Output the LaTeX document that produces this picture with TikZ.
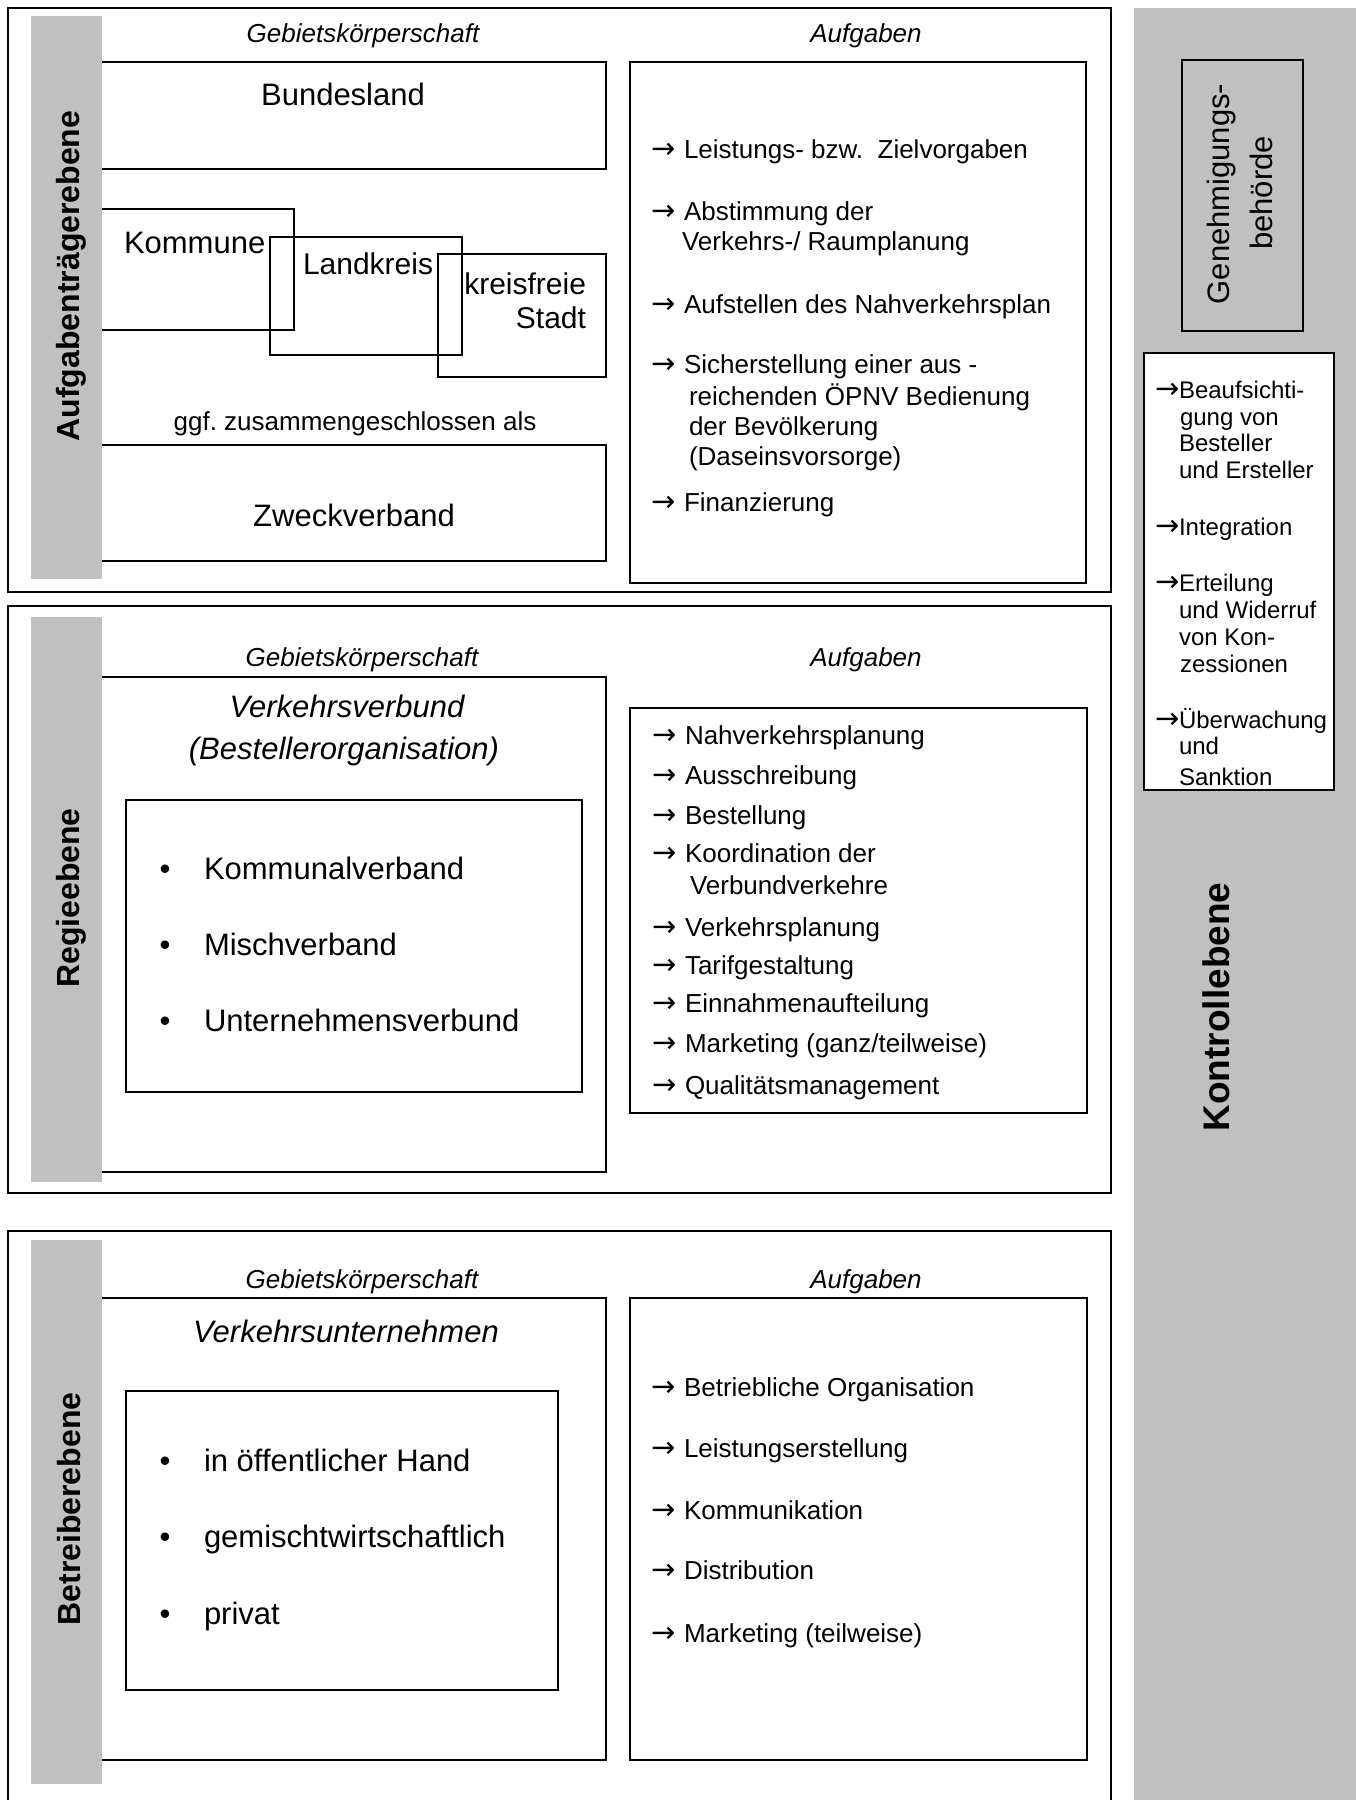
\documentclass[tikz,border=0pt]{standalone}
\usepackage{fontspec}
\setmainfont{Liberation Sans}
\newfontfamily\arrfont{DejaVu Sans}
\definecolor{barg}{RGB}{192,192,192}
\newcommand\myarr[1][33pt]{\makebox[#1][l]{\arrfont\fontsize{29}{32}\selectfont →}}
\frenchspacing
\begin{document}
\begin{tikzpicture}[x=1pt,y=-1pt,
  ln/.style={line width=1.6pt},
  t/.style={inner sep=0pt, outer sep=0pt},
  s24/.style={t,font=\fontsize{24}{29}\selectfont,yshift=-8.6pt},
  s26/.style={t,font=\fontsize{26}{31}\selectfont,yshift=-9.4pt},
  s30/.style={t,font=\fontsize{30}{36}\selectfont,yshift=-10.8pt},
  s31/.style={t,font=\fontsize{31}{37}\selectfont,yshift=-11.2pt},
  i26/.style={t,font=\fontsize{26}{31}\selectfont\itshape,yshift=-9.4pt},
  i31/.style={t,font=\fontsize{31}{37}\selectfont\itshape,yshift=-11.2pt},
  lab/.style={t,rotate=90,anchor=base,font=\fontsize{32}{38}\selectfont\bfseries},
  rot/.style={t,rotate=90,anchor=base,font=\fontsize{31}{37}\selectfont},
]
\useasboundingbox (0,0) rectangle (1356,1800);
\fill[white] (0,0) rectangle (1356,1800);

% ---------- right column: Kontrollebene ----------
\fill[barg] (1134,8) rectangle (1356,1800);
\draw[ln,fill=barg] (1182,60) rectangle (1303,331);
\draw[ln,fill=white] (1144,353) rectangle (1334,790);
\node[rot] (gen1) at (1229,194) {Genehmigungs-};
\node[rot] (gen2) at (1272,193) {behörde};
\node[t,rotate=90,anchor=base,font=\fontsize{37}{44}\selectfont\bfseries] (kontr) at (1229,1007) {Kontrollebene};
\node[s24,anchor=base west] (k1) at (1155,390) {\myarr[24pt]Beaufsichti-};
\node[s24,anchor=base west] (k2) at (1180,417) {gung von};
\node[s24,anchor=base west] (k3) at (1179,443) {Besteller};
\node[s24,anchor=base west] (k4) at (1179,470) {und Ersteller};
\node[s24,anchor=base west] (k5) at (1155,527) {\myarr[24pt]Integration};
\node[s24,anchor=base west] (k6) at (1155,583) {\myarr[24pt]Erteilung};
\node[s24,anchor=base west] (k7) at (1179,610) {und Widerruf};
\node[s24,anchor=base west] (k8) at (1179,637) {von Kon-};
\node[s24,anchor=base west] (k9) at (1180,664) {zessionen};
\node[s24,anchor=base west] (k10) at (1155,720) {\myarr[24pt]Überwachung};
\node[s24,anchor=base west] (k11) at (1179,746) {und};
\node[s24,anchor=base west] (k12) at (1179,777) {Sanktion};

% ---------- panel 1: Aufgabentraegerebene ----------
\draw[ln] (8,8) rectangle (1111,592);
\draw[ln] (98,62) rectangle (606,169);
\draw[ln] (98,209) rectangle (294,330);
\draw[ln] (270,237) rectangle (462,355);
\draw[ln] (438,254) rectangle (606,377);
\draw[ln] (98,445) rectangle (606,561);
\draw[ln] (630,62) rectangle (1086,583);
\fill[barg] (31,16) rectangle (102,579);
\node[lab] (lab1) at (79,276) {Aufgabenträgerebene};
\node[i26,anchor=base] (g1) at (363,33) {Gebietskörperschaft};
\node[i26,anchor=base] (a1) at (866,33) {Aufgaben};
\node[s31,anchor=base] (bl) at (343,94) {Bundesland};
\node[s31,anchor=base west] (ko) at (124,242) {Kommune};
\node[s30,anchor=base west] (lk) at (303,264) {Landkreis};
\node[s30,anchor=base east] (kf1) at (586,284) {kreisfreie};
\node[s30,anchor=base east] (kf2) at (586,318) {Stadt};
\node[s26,anchor=base] (ggf) at (355,421) {ggf. zusammengeschlossen als};
\node[s31,anchor=base] (zv) at (354,515) {Zweckverband};
\node[s26,anchor=base west] (p1a) at (651,149) {\myarr Leistungs- bzw.\ \ Zielvorgaben};
\node[s26,anchor=base west] (p1b) at (651,211) {\myarr Abstimmung der};
\node[s26,anchor=base west] (p1c) at (682,241) {Verkehrs-/ Raumplanung};
\node[s26,anchor=base west] (p1d) at (651,304) {\myarr Aufstellen des Nahverkehrsplan};
\node[s26,anchor=base west] (p1e) at (651,364) {\myarr Sicherstellung einer aus -};
\node[s26,anchor=base west] (p1f) at (689,396) {reichenden ÖPNV Bedienung};
\node[s26,anchor=base west] (p1g) at (689,426) {der Bevölkerung};
\node[s26,anchor=base west] (p1h) at (689,456) {(Daseinsvorsorge)};
\node[s26,anchor=base west] (p1i) at (651,502) {\myarr Finanzierung};

% ---------- panel 2: Regieebene ----------
\draw[ln] (8,606) rectangle (1111,1193);
\draw[ln] (98,677) rectangle (606,1172);
\draw[ln] (126,800) rectangle (582,1092);
\draw[ln] (630,708) rectangle (1087,1113);
\fill[barg] (31,617) rectangle (102,1182);
\node[lab] (lab2) at (79,898) {Regieebene};
\node[i26,anchor=base] (g2) at (362,657) {Gebietskörperschaft};
\node[i26,anchor=base] (a2) at (866,657) {Aufgaben};
\node[i31,anchor=base] (vv1) at (347,706) {Verkehrsverbund};
\node[i31,anchor=base] (vv2) at (344,748) {(Bestellerorganisation)};
\node[s31,anchor=base] (b21) at (165,868) {•};
\node[s31,anchor=base] (b22) at (165,944) {•};
\node[s31,anchor=base] (b23) at (165,1020) {•};
\node[s31,anchor=base west] (v21) at (204,868) {Kommunalverband};
\node[s31,anchor=base west] (v22) at (204,944) {Mischverband};
\node[s31,anchor=base west] (v23) at (204,1020) {Unternehmensverbund};
\node[s26,anchor=base west] (p2a) at (652,735) {\myarr Nahverkehrsplanung};
\node[s26,anchor=base west] (p2b) at (652,775) {\myarr Ausschreibung};
\node[s26,anchor=base west] (p2c) at (652,815) {\myarr Bestellung};
\node[s26,anchor=base west] (p2d) at (652,853) {\myarr Koordination der};
\node[s26,anchor=base west] (p2e) at (690,885) {Verbundverkehre};
\node[s26,anchor=base west] (p2f) at (652,927) {\myarr Verkehrsplanung};
\node[s26,anchor=base west] (p2g) at (652,965) {\myarr Tarifgestaltung};
\node[s26,anchor=base west] (p2h) at (652,1003) {\myarr Einnahmenaufteilung};
\node[s26,anchor=base west] (p2i) at (652,1043) {\myarr Marketing (ganz/teilweise)};
\node[s26,anchor=base west] (p2j) at (652,1085) {\myarr Qualitätsmanagement};

% ---------- panel 3: Betreiberebene ----------
\draw[ln] (8,1810) -- (8,1231) -- (1111,1231) -- (1111,1810);
\draw[ln] (98,1298) rectangle (606,1760);
\draw[ln] (126,1391) rectangle (558,1690);
\draw[ln] (630,1298) rectangle (1087,1760);
\fill[barg] (31,1240) rectangle (102,1784);
\node[lab] (lab3) at (80,1509) {Betreiberebene};
\node[i26,anchor=base] (g3) at (362,1279) {Gebietskörperschaft};
\node[i26,anchor=base] (a3) at (866,1279) {Aufgaben};
\node[i31,anchor=base] (vu) at (346,1331) {Verkehrsunternehmen};
\node[s31,anchor=base] (b31) at (165,1460) {•};
\node[s31,anchor=base] (b32) at (165,1536) {•};
\node[s31,anchor=base] (b33) at (165,1613) {•};
\node[s31,anchor=base west] (v31) at (204,1460) {in öffentlicher Hand};
\node[s31,anchor=base west] (v32) at (204,1536) {gemischtwirtschaftlich};
\node[s31,anchor=base west] (v33) at (204,1613) {privat};
\node[s26,anchor=base west] (p3a) at (651,1387) {\myarr Betriebliche Organisation};
\node[s26,anchor=base west] (p3b) at (651,1448) {\myarr Leistungserstellung};
\node[s26,anchor=base west] (p3c) at (651,1510) {\myarr Kommunikation};
\node[s26,anchor=base west] (p3d) at (651,1570) {\myarr Distribution};
\node[s26,anchor=base west] (p3e) at (651,1633) {\myarr Marketing (teilweise)};
\end{tikzpicture}
\end{document}
